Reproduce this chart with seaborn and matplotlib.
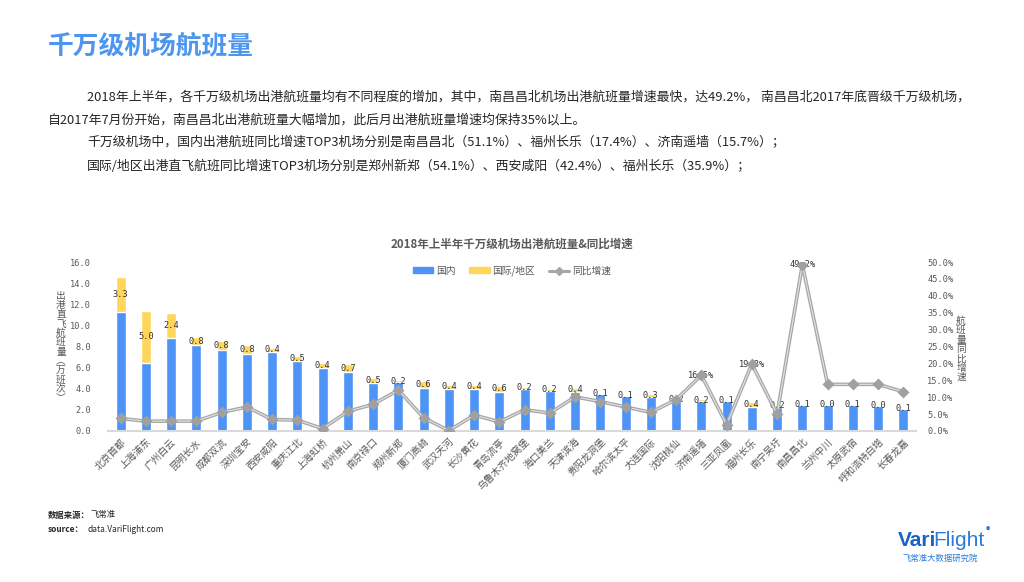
import numpy as np
import pandas as pd
import seaborn as sns
import matplotlib.pyplot as plt
from matplotlib.patches import Patch
from matplotlib.lines import Line2D

# data
airports = ['北京首都', '上海浦东', '广州白云', '昆明长水', '成都双流', '深圳宝安', '西安咸阳', '重庆江北',
            '上海虹桥', '杭州萧山', '南京禄口', '郑州新郑', '厦门高崎', '武汉天河', '长沙黄花', '青岛流亭',
            '乌鲁木齐地窝堡', '海口美兰', '天津滨海', '贵阳龙洞堡', '哈尔滨太平', '大连国际', '沈阳桃仙', '济南遥墙',
            '三亚凤凰', '福州长乐', '南宁吴圩', '南昌昌北', '兰州中川', '太原武宿', '呼和浩特白塔', '长春龙嘉']
domestic = [11.3, 6.4, 8.8, 8.1, 7.7, 7.3, 7.5, 6.6, 6.0, 5.6, 4.5, 4.6, 4.1, 4.0, 4.0, 3.7,
            4.0, 3.8, 3.7, 3.5, 3.3, 3.2, 2.9, 2.8, 2.8, 2.3, 2.3, 2.5, 2.5, 2.5, 2.4, 2.1]
intl = [3.3, 5.0, 2.4, 0.8, 0.8, 0.8, 0.4, 0.5, 0.4, 0.7, 0.5, 0.2, 0.6, 0.4, 0.4, 0.6,
        0.2, 0.2, 0.4, 0.1, 0.1, 0.3, 0.2, 0.2, 0.1, 0.4, 0.2, 0.1, 0.0, 0.1, 0.0, 0.1]
growth = [3.7, 2.9, 2.9, 2.9, 5.5, 7.1, 3.4, 3.2, 0.7, 5.8, 7.9, 12.1, 3.9, 0.1, 4.7, 2.7,
          6.3, 5.3, 10.1, 8.7, 7.1, 5.5, 9.3, 16.5, 1.9, 19.8, 5.0, 49.2, 13.8, 13.8, 13.8, 11.6]
labelled_growth = ['济南遥墙', '福州长乐', '南昌昌北']

BLUE = '#4d94f6'
YELLOW = '#ffd65c'
GREY = '#595959'

df = pd.DataFrame({'airport': airports, 'domestic': domestic, 'intl': intl, 'growth': growth})
df['total'] = df['domestic'] + df['intl']

sns.set_theme(style='white')
plt.rcParams['font.family'] = ['Noto Sans CJK SC', 'DejaVu Sans']

fig = plt.figure(figsize=(10.24, 5.82), dpi=100)
ax = fig.add_axes([0.1055, 0.2595, 0.789, 0.2903])

sns.barplot(data=df, x='airport', y='total', color=YELLOW, width=0.4, saturation=1, ax=ax, zorder=2)
sns.barplot(data=df, x='airport', y='domestic', color=BLUE, width=0.4, saturation=1, ax=ax, zorder=2)

for i, row in df.iterrows():
    ax.text(i, row['domestic'] + row['intl'] / 2, f"{row['intl']:.1f}", ha='center', va='center',
            fontsize=6.2, family='DejaVu Sans Mono', color='#333333', zorder=5)

ax.set_ylim(0, 16)
ax.set_yticks(np.arange(0, 17, 2))
ax.set_yticklabels([f'{v:.1f}' for v in np.arange(0, 17, 2)], family='DejaVu Sans Mono',
                   fontsize=6.2, color=GREY)
ax.set_xlabel('')
ax.set_ylabel('')

ax2 = ax.twinx()
sns.pointplot(data=df, x='airport', y='growth', ax=ax2, color='#a6a6a6', markers='', linewidth=2.6,
              errorbar=None)
sns.pointplot(data=df, x='airport', y='growth', ax=ax2, color='#e4e4e4', markers='', linewidth=0.8,
              errorbar=None)
sns.pointplot(data=df, x='airport', y='growth', ax=ax2, color='#a0a0a0', markers='D', markersize=4.5,
              linestyles='none', errorbar=None)
for i, row in df.iterrows():
    if row['airport'] in labelled_growth:
        ax2.text(i, row['growth'], f"{row['growth']:.1f}%", ha='center', va='center',
                 fontsize=6.2, family='DejaVu Sans Mono', color='#333333', zorder=1)
ax2.set_ylim(0, 50)
ax2.set_yticks(np.arange(0, 51, 5))
ax2.set_yticklabels([f'{v:.1f}%' for v in np.arange(0, 51, 5)], family='DejaVu Sans Mono',
                    fontsize=6.2, color=GREY)
ax2.set_xlabel('')
ax2.set_ylabel('')

ax.set_xlim(-0.5, len(airports) - 0.5)
ax.set_xticks(range(len(airports)))
ax.set_xticklabels(airports, rotation=45, ha='right', rotation_mode='anchor', fontsize=7, color=GREY)
ax.tick_params(axis='x', length=0, pad=4)
ax.tick_params(axis='y', length=0, pad=12)
ax2.tick_params(axis='y', length=0, pad=8)

for a in (ax, ax2):
    for s in a.spines.values():
        s.set_visible(False)
ax.spines['bottom'].set_visible(True)
ax.spines['bottom'].set_color('#d9d9d9')
ax.spines['bottom'].set_linewidth(1.5)

# axis titles stacked vertically
fig.text(61 / 1024, 1 - 347 / 582, '\n'.join('出港直飞航班量︵万班次︶'), ha='center', va='center',
         fontsize=7, color=GREY, linespacing=0.92)
fig.text(961 / 1024, 1 - 349 / 582, '\n'.join('航班量同比增速'), ha='center', va='center',
         fontsize=7, color=GREY, linespacing=0.92)

# chart title and legend
fig.text(0.5, 1 - 244 / 582, '2018年上半年千万级机场出港航班量&同比增速', ha='center', va='center',
         fontsize=8.3, fontweight='bold', color=GREY)
handles = [Patch(color=BLUE), Patch(color=YELLOW),
           Line2D([], [], color='#a6a6a6', lw=2.2, marker='D', markersize=4)]
fig.legend(handles, ['国内', '国际/地区', '同比增速'], loc='center', bbox_to_anchor=(0.5, 1 - 271 / 582),
           ncol=3, frameon=False, fontsize=7, handlelength=2.1, handleheight=0.6,
           columnspacing=1.4, handletextpad=0.3, labelcolor=GREY)

# page heading and paragraph
fig.text(48 / 1024, 1 - 46 / 582, '千万级机场航班量', ha='left', va='center', fontsize=18.5,
         fontweight='bold', color='#4d96f0')
para = [
    (87, 97, '2018年上半年，各千万级机场出港航班量均有不同程度的增加，其中，南昌昌北机场出港航班量增速最快，达49.2%， 南昌昌北2017年底晋级千万级机场，'),
    (48, 120, '自2017年7月份开始，南昌昌北出港航班量大幅增加，此后月出港航班量增速均保持35%以上。'),
    (87, 143, '千万级机场中，国内出港航班同比增速TOP3机场分别是南昌昌北（51.1%）、福州长乐（17.4%）、济南遥墙（15.7%）；'),
    (87, 166, '国际/地区出港直飞航班同比增速TOP3机场分别是郑州新郑（54.1%）、西安咸阳（42.4%）、福州长乐（35.9%）；'),
]
for x, y, s in para:
    fig.text(x / 1024, 1 - y / 582, s, ha='left', va='center', fontsize=9.3, color='#262626')

# source notes
fig.text(48 / 1024, 1 - 515 / 582, '数据来源：', ha='left', va='center', fontsize=6, fontweight='bold',
         color='#262626')
fig.text(90 / 1024, 1 - 515 / 582, '飞常准', ha='left', va='center', fontsize=6, color='#262626')
fig.text(48 / 1024, 1 - 530 / 582, 'source：', ha='left', va='center', fontsize=6, fontweight='bold',
         color='#262626')
fig.text(88 / 1024, 1 - 530 / 582, 'data.VariFlight.com', ha='left', va='center', fontsize=6,
         color='#262626')

# logo
ident = plt.matplotlib.transforms.IdentityTransform()
vari = fig.text(898 / 1024, 1 - 540 / 582, 'Vari', ha='left', va='center', fontsize=15, fontweight='bold',
                family='Liberation Sans', color='#1a63bf')
fl = fig.text(0, 0, 'Flight', ha='left', va='bottom', fontsize=15, family='Liberation Sans',
              color='#2a7bd8', transform=ident)
fig.canvas.draw()
bb = vari.get_window_extent()
fl.set_position((bb.x1 - 3, bb.y0))
fig.canvas.draw()
fb = fl.get_window_extent()
fig.text(fb.x1 + 3, fb.y1 - 1, '®', ha='center', va='center', fontsize=6, fontweight='bold',
         color='#1a63bf', transform=ident)
fig.text(940 / 1024, 1 - 558 / 582, '飞常准大数据研究院', ha='center', va='center', fontsize=6,
         color='#2a7bd8')

fig.savefig('out.png', dpi=100)
